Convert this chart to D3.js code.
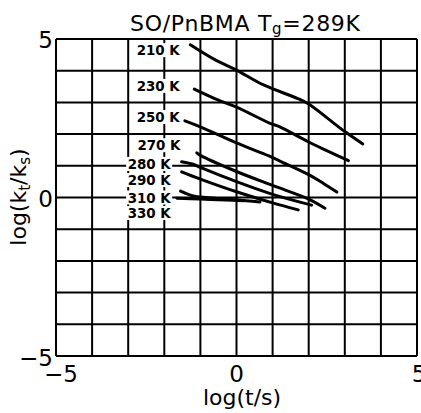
<!DOCTYPE html>
<html>
<head>
<meta charset="utf-8">
<script src="https://cdn.jsdelivr.net/npm/d3@7"></script>
<style>
  body { margin: 0; background: #fff; }
  text { font-family: "DejaVu Sans", sans-serif; fill: #000; }
</style>
</head>
<body>
<div id="chart"></div>
<script>
// chart size
var svgWidth = 421;
var svgHeight = 413;

var margin = { top: 39, right: 4, bottom: 57, left: 56 };
var chartWidth = svgWidth - margin.left - margin.right;
var chartHeight = svgHeight - margin.top - margin.bottom;

// data: log(t/s) vs log(kt/ks)
var temps = ["210 K", "230 K", "250 K", "270 K", "280 K", "290 K", "310 K", "330 K"];
var x210 = [-1.28, -0.6, 0, 0.75, 1.7, 2.0, 2.5, 3.0, 3.5];
var y210 = [4.82, 4.35, 4.02, 3.55, 3.12, 2.95, 2.52, 2.08, 1.69];
var x230 = [-1.17, -0.5, 0, 0.93, 1.2, 2.0, 2.5, 3.1];
var y230 = [3.42, 3.07, 2.85, 2.34, 2.23, 1.75, 1.48, 1.16];
var x250 = [-1.43, -1.0, 0, 0.9, 1.2, 2.0, 2.4, 2.78];
var y250 = [2.42, 2.23, 1.72, 1.31, 1.15, 0.72, 0.45, 0.17];
var x270 = [-1.1, -1.0, 0, 1.0, 2.0, 2.45];
var y270 = [1.41, 1.33, 0.82, 0.38, -0.05, -0.34];
var x280 = [-1.52, -1.2, -1.0, 0, 1.0, 2.08];
var y280 = [1.13, 1.05, 0.95, 0.5, 0.1, -0.24];
var x290 = [-1.52, -1.0, 0, 1.0, 1.71];
var y290 = [0.81, 0.58, 0.18, -0.17, -0.39];
var x310 = [-1.55, -1.2, -0.6, 0, 0.65];
var y310 = [0.2, 0.05, -0.02, -0.07, -0.14];
var x330 = [-1.65, -1.0, -0.3, 0.2];
var y330 = [-0.02, -0.05, -0.08, -0.1];

var xs = [x210, x230, x250, x270, x280, x290, x310, x330];
var ys = [y210, y230, y250, y270, y280, y290, y310, y330];

// where the temperature labels sit (data units)
var labelX = [-2.17, -2.17, -2.17, -2.15, -2.42, -2.42, -2.42, -2.42];
var labelY = [4.65, 3.52, 2.54, 1.65, 1.06, 0.55, 0.0, -0.49];

var ticks = [-5, 0, 5];
var gridVals = d3.range(-5, 6, 1);

var svg = d3.select("#chart")
  .append("svg")
  .attr("width", svgWidth)
  .attr("height", svgHeight);

var chartGroup = svg.append("g")
  .attr("transform", `translate(${margin.left}, ${margin.top})`);

var xScale = d3.scaleLinear().domain([-5, 5]).range([0, chartWidth]);
var yScale = d3.scaleLinear().domain([-5, 5]).range([chartHeight, 0]);

// grid
chartGroup.selectAll(".vgrid").data(gridVals).enter()
  .append("line")
  .attr("x1", d => xScale(d)).attr("x2", d => xScale(d))
  .attr("y1", 0).attr("y2", chartHeight)
  .attr("stroke", "#000").attr("stroke-width", 2);

chartGroup.selectAll(".hgrid").data(gridVals).enter()
  .append("line")
  .attr("x1", 0).attr("x2", chartWidth)
  .attr("y1", d => yScale(d)).attr("y2", d => yScale(d))
  .attr("stroke", "#000").attr("stroke-width", 2);

// labels with white backing so they cut the grid
var labels = chartGroup.selectAll(".tlab").data(temps).enter()
  .append("g")
  .attr("transform", (d, i) => `translate(${xScale(labelX[i])}, ${yScale(labelY[i])})`);

labels.append("rect")
  .attr("x", -23).attr("y", -7)
  .attr("width", 46).attr("height", 14)
  .attr("fill", "#fff");

labels.append("text")
  .attr("text-anchor", "middle")
  .attr("dy", "0.36em")
  .attr("font-size", 14)
  .attr("font-weight", "bold")
  .attr("textLength", 43)
  .attr("lengthAdjust", "spacingAndGlyphs")
  .text(d => d);

// curves
var line = d3.line()
  .x(d => xScale(d[0]))
  .y(d => yScale(d[1]))
  .curve(d3.curveCatmullRom);

xs.forEach(function(xv, i) {
  var pts = xv.map((v, j) => [v, ys[i][j]]);
  chartGroup.append("path")
    .attr("d", line(pts))
    .attr("fill", "none")
    .attr("stroke", "#000")
    .attr("stroke-width", 3)
    .attr("stroke-linecap", "round");
});

// tick labels
chartGroup.selectAll(".xt").data(ticks).enter()
  .append("text")
  .attr("x", d => xScale(d) + (d === -5 ? 5 : (d === 5 ? 2 : 0)))
  .attr("y", chartHeight + 26)
  .attr("text-anchor", "middle")
  .attr("font-size", 23)
  .text(d => d === -5 ? "\u22125" : d);

chartGroup.selectAll(".yt").data(ticks).enter()
  .append("text")
  .attr("x", -3)
  .attr("y", d => yScale(d) + (d === -5 ? 10 : 9))
  .attr("text-anchor", "end")
  .attr("font-size", 23)
  .text(d => d === -5 ? "\u22125" : d);

// title
var title = svg.append("text")
  .attr("x", 245)
  .attr("y", 31)
  .attr("text-anchor", "middle")
  .attr("font-size", 22)
  .attr("textLength", 230);
title.append("tspan").text("SO/PnBMA  T");
title.append("tspan").attr("font-size", 15).attr("dy", 3).text("g");
title.append("tspan").attr("dy", -3).text("=289K");

// axis titles
svg.append("text")
  .attr("x", 242)
  .attr("y", 405)
  .attr("text-anchor", "middle")
  .attr("font-size", 22)
  .text("log(t/s)");

var ylab = svg.append("text")
  .attr("transform", "translate(26, 197) rotate(-90)")
  .attr("text-anchor", "middle")
  .attr("font-size", 22);
ylab.append("tspan").text("log(k");
ylab.append("tspan").attr("font-size", 15).attr("dy", 4).text("t");
ylab.append("tspan").attr("dy", -4).text("/k");
ylab.append("tspan").attr("font-size", 15).attr("dy", 4).text("s");
ylab.append("tspan").attr("dy", -4).text(")");
</script>
</body>
</html>
